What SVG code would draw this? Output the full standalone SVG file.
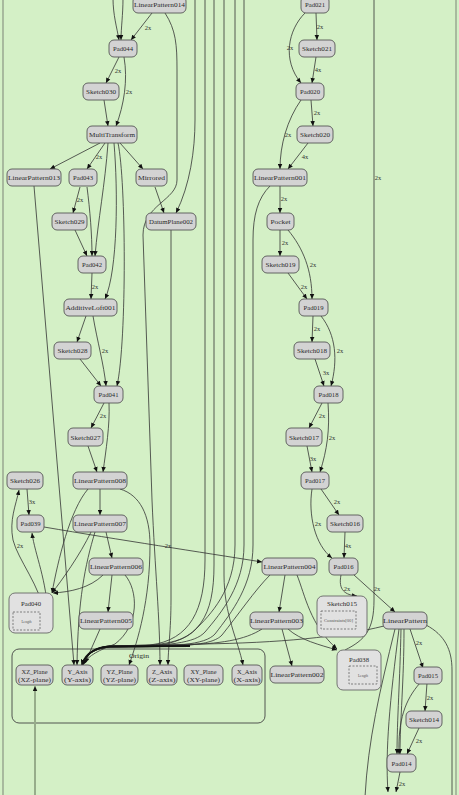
<svg xmlns="http://www.w3.org/2000/svg" width="459" height="795" viewBox="0 0 459 795">
<defs>
<marker id="a" viewBox="0 0 10 10" refX="10" refY="5" markerWidth="5.5" markerHeight="5" markerUnits="userSpaceOnUse" orient="auto"><path d="M0,0.5 L10,5 L0,9.5 z" fill="#111"/></marker>
<style>
.n rect{fill:#d3d3d3;stroke:#555;stroke-width:0.9}
.cl{fill:#e1e1e1;stroke:#666;stroke-width:0.9}
.d{fill:none;stroke:#555;stroke-width:0.7;stroke-dasharray:2,1.5}
.t{font-family:"Liberation Serif","Noto Serif CJK SC",serif;font-size:7px;fill:#2a2a2a;text-anchor:middle}
.s{font-family:"Liberation Serif",serif;font-size:3.6px;fill:#555;text-anchor:middle}
.l{font-family:"Liberation Serif",serif;font-size:6.5px;fill:#333;text-anchor:middle}
.e path{fill:none;stroke:#333;stroke-width:0.8}
.e path.m{marker-end:url(#a)}
</style>
</defs>
<rect x="0" y="0" width="459" height="795" fill="#d4f0c6"/>
<rect x="3" y="-10" width="453" height="815" fill="none" stroke="#8a9684" stroke-width="1.2"/>
<g id="origin-cluster">
<rect x="12" y="649" width="253" height="74" rx="7" fill="none" stroke="#444" stroke-width="0.9"/>
<text class="t" x="139" y="658" textLength="20" lengthAdjust="spacingAndGlyphs">Origin</text>
</g>
<g class="e" id="connectors">
<path class="m" d="M113,-2 C113,15 117,28 119,40"/>
<path class="m" d="M123,-2 C123,15 121,28 121,40"/>
<path class="m" d="M152,13 L131,40"/>
<path class="m" d="M119,57 L106,83"/>
<path class="m" d="M124,57 C128,80 124,105 116,126"/>
<path class="m" d="M104,100 L108,126"/>
<path class="m" d="M100,143 L50,169"/>
<path class="m" d="M105,143 L87,169"/>
<path class="m" d="M120,143 L143,169"/>
<path class="m" d="M108,143 C105,185 98,220 95,256"/>
<path class="m" d="M114,143 C118,190 118,270 105,299"/>
<path class="m" d="M118,143 C126,180 127,340 117,386"/>
<path class="m" d="M80,187 L73,213"/>
<path class="m" d="M87,187 C90,210 92,235 92,256"/>
<path class="m" d="M75,230 L87,256"/>
<path class="m" d="M92,273 L91,299"/>
<path class="m" d="M86,316 L77,342"/>
<path class="m" d="M93,316 C97,340 104,365 106,386"/>
<path class="m" d="M80,359 L101,386"/>
<path class="m" d="M104,403 L91,428"/>
<path class="m" d="M109,403 C110,425 106,450 103,472"/>
<path class="m" d="M88,446 L97,472"/>
<path class="m" d="M34,186 L74,665"/>
<path class="m" d="M165,13 C176,30 177,45 177,70 L177,180 C177,200 143,205 143,235 L152,500 C155,570 160,620 160,665"/>
<path class="m" d="M195,-2 L195,120 C195,150 190,185 176,213"/>
<path class="m" d="M155,187 L164,213"/>
<path class="m" d="M171,230 L171,600 C171,630 168,650 168,665"/>
<path class="m" d="M100,489 L100,515"/>
<path class="m" d="M88,489 C70,510 58,560 52,593"/>
<path class="m" d="M120,489 C140,495 150,515 150,545 C150,600 138,640 129,665"/>
<path class="m" d="M91,532 C80,555 62,580 52,593"/>
<path class="m" d="M95,532 C85,565 78,600 77,665"/>
<path class="m" d="M106,532 L112,558"/>
<path class="m" d="M103,575 C90,588 70,592 53,593"/>
<path class="m" d="M112,575 L108,612"/>
<path class="m" d="M125,575 C138,590 140,625 115,644 C100,650 88,655 83,665"/>
<path class="m" d="M100,629 L85,663"/>
<path class="m" d="M44,527 C120,540 200,552 262,562"/>
<path class="m" d="M27,489 L29,515"/>
<path class="m" d="M48,618 C47,580 35,555 32,533"/>
<path class="m" d="M46,618 C40,585 18,560 13,540 C9,520 16,505 19,490"/>
<path class="m" d="M205,-2 L205,560 C205,610 190,640 150,645 L110,646 C95,647 86,654 82,665"/>
<path class="m" d="M214,-2 L214,565 C214,615 200,643 150,646 L110,646 C95,647 86,654 82,665"/>
<path class="m" d="M235,-2 L235,545 C235,590 210,615 195,630 C182,643 160,646 110,647 C95,648 86,654 82,665"/>
<path class="m" d="M244,-2 L244,545 C244,585 222,612 205,632 C195,643 170,646 110,647 C95,648 86,654 82,665"/>
<path class="m" d="M270,186 C258,198 253,215 253,240 L253,545 C253,585 232,612 215,634 C205,645 175,647 110,647 C95,648 86,654 82,665"/>
<path class="m" d="M270,575 C255,590 238,615 222,635 C212,646 180,647 110,647 C95,648 86,654 82,665"/>
<path class="m" d="M262,629 C245,640 220,644 180,645 L110,646 C95,647 86,654 82,665"/>
<path class="m" d="M384,626 C340,637 280,643 200,644 L110,646 C95,647 86,654 82,665"/>
<path d="M190,646 L110,646.5 C95,647 86,654 82,664" style="stroke:#111;stroke-width:1.8"/>
<path class="m" d="M224,-2 L224,575 C224,615 238,640 243,665"/>
<path class="m" d="M316,13 L317,40"/>
<path class="m" d="M305,13 C288,30 282,60 301,83"/>
<path class="m" d="M316,57 L312,83"/>
<path class="m" d="M301,100 C287,120 280,145 280,169"/>
<path class="m" d="M311,100 L313,126"/>
<path class="m" d="M308,143 L288,169"/>
<path d="M374,-2 L374,600 C374,630 365,640 345,650"/>
<path class="m" d="M280,186 L280,213"/>
<path class="m" d="M280,230 L280,256"/>
<path class="m" d="M288,230 C303,248 312,270 312,299"/>
<path class="m" d="M288,273 L307,299"/>
<path class="m" d="M313,316 L312,342"/>
<path class="m" d="M321,316 C336,335 338,360 331,386"/>
<path class="m" d="M315,359 L324,386"/>
<path class="m" d="M322,403 L309,428"/>
<path class="m" d="M328,403 C330,430 327,450 320,472"/>
<path class="m" d="M307,446 L312,472"/>
<path class="m" d="M312,489 C308,515 315,545 332,558"/>
<path class="m" d="M321,489 L339,515"/>
<path class="m" d="M345,532 L344,558"/>
<path class="m" d="M341,575 C338,590 345,595 357,596"/>
<path class="m" d="M354,575 L395,612"/>
<path class="m" d="M285,575 L279,612"/>
<path class="m" d="M297,575 C305,595 310,625 337,649"/>
<path class="m" d="M282,629 L292,666"/>
<path class="m" d="M288,629 C300,640 320,645 337,650"/>
<path class="m" d="M410,629 L423,668"/>
<path class="m" d="M401,629 C400,680 397,720 397,754"/>
<path class="m" d="M404,629 C404,680 400,720 400,754"/>
<path d="M395,629 C380,690 368,740 365,797"/>
<path class="m" d="M399,629 C390,700 385,750 388,792"/>
<path class="m" d="M400,772 L396,792"/>
<path d="M426,625 C445,635 452,650 452,670 L452,800"/>
<path class="m" d="M427,683 L425,711"/>
<path class="m" d="M420,683 C405,700 398,720 399,754"/>
<path class="m" d="M419,728 L407,754"/>
<path d="M35,797 L35,690" style="stroke:#97ad8b;stroke-width:2"/>
<path class="m" d="M35,692 L35,686" style="stroke:#97ad8b;stroke-width:1"/>
</g>
<g id="edge-labels">
<text class="l" x="148" y="30">2x</text>
<text class="l" x="118" y="73">2x</text>
<text class="l" x="129" y="94">2x</text>
<text class="l" x="99" y="159">2x</text>
<text class="l" x="80" y="202">2x</text>
<text class="l" x="95" y="289">2x</text>
<text class="l" x="105" y="353">2x</text>
<text class="l" x="103" y="418">2x</text>
<text class="l" x="32" y="504">3x</text>
<text class="l" x="20" y="548">2x</text>
<text class="l" x="168" y="548">2x</text>
<text class="l" x="320" y="29">2x</text>
<text class="l" x="290" y="50">2x</text>
<text class="l" x="318" y="72">4x</text>
<text class="l" x="317" y="115">2x</text>
<text class="l" x="288" y="137">2x</text>
<text class="l" x="305" y="159">4x</text>
<text class="l" x="378" y="180">2x</text>
<text class="l" x="284" y="201">2x</text>
<text class="l" x="285" y="245">2x</text>
<text class="l" x="313" y="267">2x</text>
<text class="l" x="304" y="289">2x</text>
<text class="l" x="317" y="331">2x</text>
<text class="l" x="340" y="353">2x</text>
<text class="l" x="326" y="375">3x</text>
<text class="l" x="322" y="418">2x</text>
<text class="l" x="332" y="440">2x</text>
<text class="l" x="313" y="461">3x</text>
<text class="l" x="337" y="504">2x</text>
<text class="l" x="318" y="526">2x</text>
<text class="l" x="348" y="548">4x</text>
<text class="l" x="347" y="591">2x</text>
<text class="l" x="377" y="591">2x</text>
<text class="l" x="419" y="645">2x</text>
<text class="l" x="430" y="700">2x</text>
<text class="l" x="419" y="743">2x</text>
<text class="l" x="402" y="786">2x</text>
</g>
<g id="n-LinearPattern014" class="n"><rect x="133" y="-4" width="53" height="17" rx="5"/><text class="t" x="159.5" y="7" textLength="51" lengthAdjust="spacingAndGlyphs">LinearPattern014</text></g>
<g id="n-Pad044" class="n"><rect x="109" y="40" width="28" height="17" rx="5"/><text class="t" x="123" y="51" textLength="20" lengthAdjust="spacingAndGlyphs">Pad044</text></g>
<g id="n-Sketch030" class="n"><rect x="83" y="83" width="36" height="17" rx="5"/><text class="t" x="101" y="94" textLength="30" lengthAdjust="spacingAndGlyphs">Sketch030</text></g>
<g id="n-MultiTransform" class="n"><rect x="87" y="126" width="50" height="17" rx="5"/><text class="t" x="112" y="137" textLength="46" lengthAdjust="spacingAndGlyphs">MultiTransform</text></g>
<g id="n-LinearPattern013" class="n"><rect x="7" y="169" width="54" height="17" rx="5"/><text class="t" x="34" y="180" textLength="52" lengthAdjust="spacingAndGlyphs">LinearPattern013</text></g>
<g id="n-Pad043" class="n"><rect x="69" y="169" width="28" height="17" rx="5"/><text class="t" x="83" y="180" textLength="20" lengthAdjust="spacingAndGlyphs">Pad043</text></g>
<g id="n-Mirrored" class="n"><rect x="136" y="169" width="31" height="17" rx="5"/><text class="t" x="151.5" y="180" textLength="27" lengthAdjust="spacingAndGlyphs">Mirrored</text></g>
<g id="n-Sketch029" class="n"><rect x="52" y="213" width="35" height="17" rx="5"/><text class="t" x="69.5" y="224" textLength="30" lengthAdjust="spacingAndGlyphs">Sketch029</text></g>
<g id="n-DatumPlane002" class="n"><rect x="146" y="213" width="50" height="17" rx="5"/><text class="t" x="171" y="224" textLength="44" lengthAdjust="spacingAndGlyphs">DatumPlane002</text></g>
<g id="n-Pad042" class="n"><rect x="78" y="256" width="28" height="17" rx="5"/><text class="t" x="92" y="267" textLength="20" lengthAdjust="spacingAndGlyphs">Pad042</text></g>
<g id="n-AdditiveLoft001" class="n"><rect x="64" y="299" width="53" height="17" rx="5"/><text class="t" x="90.5" y="310" textLength="50" lengthAdjust="spacingAndGlyphs">AdditiveLoft001</text></g>
<g id="n-Sketch028" class="n"><rect x="54" y="342" width="37" height="17" rx="5"/><text class="t" x="72.5" y="353" textLength="30" lengthAdjust="spacingAndGlyphs">Sketch028</text></g>
<g id="n-Pad041" class="n"><rect x="94" y="386" width="29" height="17" rx="5"/><text class="t" x="108.5" y="397" textLength="20" lengthAdjust="spacingAndGlyphs">Pad041</text></g>
<g id="n-Sketch027" class="n"><rect x="68" y="428" width="35" height="18" rx="5"/><text class="t" x="85.5" y="439.5" textLength="30" lengthAdjust="spacingAndGlyphs">Sketch027</text></g>
<g id="n-Sketch026" class="n"><rect x="7" y="472" width="36" height="17" rx="5"/><text class="t" x="25" y="483" textLength="30" lengthAdjust="spacingAndGlyphs">Sketch026</text></g>
<g id="n-LinearPattern008" class="n"><rect x="73" y="472" width="54" height="17" rx="5"/><text class="t" x="100" y="483" textLength="52" lengthAdjust="spacingAndGlyphs">LinearPattern008</text></g>
<g id="n-Pad039" class="n"><rect x="17" y="515" width="27" height="17" rx="5"/><text class="t" x="30.5" y="526" textLength="20" lengthAdjust="spacingAndGlyphs">Pad039</text></g>
<g id="n-LinearPattern007" class="n"><rect x="73" y="515" width="54" height="17" rx="5"/><text class="t" x="100" y="526" textLength="52" lengthAdjust="spacingAndGlyphs">LinearPattern007</text></g>
<g id="n-LinearPattern006" class="n"><rect x="89" y="558" width="54" height="17" rx="5"/><text class="t" x="116" y="569" textLength="52" lengthAdjust="spacingAndGlyphs">LinearPattern006</text></g>
<g id="n-LinearPattern005" class="n"><rect x="79" y="612" width="54" height="17" rx="5"/><text class="t" x="106" y="623" textLength="52" lengthAdjust="spacingAndGlyphs">LinearPattern005</text></g>
<g id="n-Pad040">
<rect class="cl" x="9" y="593" width="44" height="40" rx="6"/>
<text class="t" x="31" y="606" textLength="20" lengthAdjust="spacingAndGlyphs">Pad040</text>
<rect class="d" x="13" y="612" width="27" height="18"/>
<text class="s" x="26.5" y="622.5">Length</text>
</g>
<g id="n-Pad021" class="n"><rect x="301" y="-4" width="28" height="17" rx="5"/><text class="t" x="315" y="7" textLength="20" lengthAdjust="spacingAndGlyphs">Pad021</text></g>
<g id="n-Sketch021" class="n"><rect x="299" y="40" width="36" height="17" rx="5"/><text class="t" x="317" y="51" textLength="30" lengthAdjust="spacingAndGlyphs">Sketch021</text></g>
<g id="n-Pad020" class="n"><rect x="296" y="83" width="28" height="17" rx="5"/><text class="t" x="310" y="94" textLength="20" lengthAdjust="spacingAndGlyphs">Pad020</text></g>
<g id="n-Sketch020" class="n"><rect x="297" y="126" width="36" height="17" rx="5"/><text class="t" x="315" y="137" textLength="30" lengthAdjust="spacingAndGlyphs">Sketch020</text></g>
<g id="n-LinearPattern001" class="n"><rect x="253" y="169" width="54" height="17" rx="5"/><text class="t" x="280" y="180" textLength="52" lengthAdjust="spacingAndGlyphs">LinearPattern001</text></g>
<g id="n-Pocket" class="n"><rect x="267" y="213" width="27" height="17" rx="5"/><text class="t" x="280.5" y="224" textLength="20" lengthAdjust="spacingAndGlyphs">Pocket</text></g>
<g id="n-Sketch019" class="n"><rect x="262" y="256" width="37" height="17" rx="5"/><text class="t" x="280.5" y="267" textLength="30" lengthAdjust="spacingAndGlyphs">Sketch019</text></g>
<g id="n-Pad019" class="n"><rect x="299" y="299" width="29" height="17" rx="5"/><text class="t" x="313.5" y="310" textLength="20" lengthAdjust="spacingAndGlyphs">Pad019</text></g>
<g id="n-Sketch018" class="n"><rect x="294" y="342" width="36" height="17" rx="5"/><text class="t" x="312" y="353" textLength="30" lengthAdjust="spacingAndGlyphs">Sketch018</text></g>
<g id="n-Pad018" class="n"><rect x="314" y="386" width="29" height="17" rx="5"/><text class="t" x="328.5" y="397" textLength="20" lengthAdjust="spacingAndGlyphs">Pad018</text></g>
<g id="n-Sketch017" class="n"><rect x="286" y="428" width="36" height="18" rx="5"/><text class="t" x="304" y="439.5" textLength="30" lengthAdjust="spacingAndGlyphs">Sketch017</text></g>
<g id="n-Pad017" class="n"><rect x="301" y="472" width="28" height="17" rx="5"/><text class="t" x="315" y="483" textLength="20" lengthAdjust="spacingAndGlyphs">Pad017</text></g>
<g id="n-Sketch016" class="n"><rect x="327" y="515" width="36" height="17" rx="5"/><text class="t" x="345" y="526" textLength="30" lengthAdjust="spacingAndGlyphs">Sketch016</text></g>
<g id="n-LinearPattern004" class="n"><rect x="262" y="558" width="55" height="17" rx="5"/><text class="t" x="289.5" y="569" textLength="52" lengthAdjust="spacingAndGlyphs">LinearPattern004</text></g>
<g id="n-Pad016" class="n"><rect x="329" y="558" width="29" height="17" rx="5"/><text class="t" x="343.5" y="569" textLength="20" lengthAdjust="spacingAndGlyphs">Pad016</text></g>
<g id="n-LinearPattern003" class="n"><rect x="250" y="612" width="53" height="17" rx="5"/><text class="t" x="276.5" y="623" textLength="53" lengthAdjust="spacingAndGlyphs">LinearPattern003</text></g>
<g id="n-LinearPattern002" class="n"><rect x="270" y="666" width="54" height="17" rx="5"/><text class="t" x="297" y="677" textLength="53" lengthAdjust="spacingAndGlyphs">LinearPattern002</text></g>
<g id="n-LinearPattern" class="n"><rect x="383" y="612" width="44" height="17" rx="5"/><text class="t" x="405" y="623" textLength="44" lengthAdjust="spacingAndGlyphs">LinearPattern</text></g>
<g id="n-Pad015" class="n"><rect x="414" y="667" width="28" height="17" rx="5"/><text class="t" x="428" y="678" textLength="20" lengthAdjust="spacingAndGlyphs">Pad015</text></g>
<g id="n-Sketch014" class="n"><rect x="406" y="711" width="36" height="17" rx="5"/><text class="t" x="424" y="722" textLength="30" lengthAdjust="spacingAndGlyphs">Sketch014</text></g>
<g id="n-Pad014" class="n"><rect x="387" y="754" width="29" height="18" rx="5"/><text class="t" x="401.5" y="765.5" textLength="20" lengthAdjust="spacingAndGlyphs">Pad014</text></g>
<g id="n-Sketch015">
<rect class="cl" x="317" y="596" width="50" height="41" rx="6"/>
<text class="t" x="342" y="606" textLength="30" lengthAdjust="spacingAndGlyphs">Sketch015</text>
<rect class="d" x="321" y="611" width="35" height="18"/>
<text class="s" x="338.5" y="621.5" textLength="29" lengthAdjust="spacingAndGlyphs">Constraints[00]</text>
</g>
<g id="n-Pad038">
<rect class="cl" x="337" y="650" width="44" height="40" rx="6"/>
<text class="t" x="359" y="662" textLength="20" lengthAdjust="spacingAndGlyphs">Pad038</text>
<rect class="d" x="349" y="666" width="28" height="18"/>
<text class="s" x="363" y="676.5">Length</text>
</g>
<g id="n-XZ_Plane" class="n"><rect x="16" y="665" width="37" height="20" rx="5"/><text class="t" x="34.5" y="673.5" textLength="26" lengthAdjust="spacingAndGlyphs">XZ_Plane</text><text class="t" x="34.5" y="682" textLength="33" lengthAdjust="spacingAndGlyphs">(XZ-plane)</text></g>
<g id="n-Y_Axis" class="n"><rect x="62" y="665" width="31" height="20" rx="5"/><text class="t" x="77.5" y="673.5" textLength="20" lengthAdjust="spacingAndGlyphs">Y_Axis</text><text class="t" x="77.5" y="682" textLength="27" lengthAdjust="spacingAndGlyphs">(Y-axis)</text></g>
<g id="n-YZ_Plane" class="n"><rect x="101" y="665" width="37" height="20" rx="5"/><text class="t" x="119.5" y="673.5" textLength="26" lengthAdjust="spacingAndGlyphs">YZ_Plane</text><text class="t" x="119.5" y="682" textLength="33" lengthAdjust="spacingAndGlyphs">(YZ-plane)</text></g>
<g id="n-Z_Axis" class="n"><rect x="147" y="665" width="30" height="20" rx="5"/><text class="t" x="162" y="673.5" textLength="20" lengthAdjust="spacingAndGlyphs">Z_Axis</text><text class="t" x="162" y="682" textLength="27" lengthAdjust="spacingAndGlyphs">(Z-axis)</text></g>
<g id="n-XY_Plane" class="n"><rect x="184" y="665" width="39" height="20" rx="5"/><text class="t" x="203.5" y="673.5" textLength="26" lengthAdjust="spacingAndGlyphs">XY_Plane</text><text class="t" x="203.5" y="682" textLength="33" lengthAdjust="spacingAndGlyphs">(XY-plane)</text></g>
<g id="n-X_Axis" class="n"><rect x="232" y="665" width="30" height="20" rx="5"/><text class="t" x="247" y="673.5" textLength="20" lengthAdjust="spacingAndGlyphs">X_Axis</text><text class="t" x="247" y="682" textLength="27" lengthAdjust="spacingAndGlyphs">(X-axis)</text></g>
</svg>
